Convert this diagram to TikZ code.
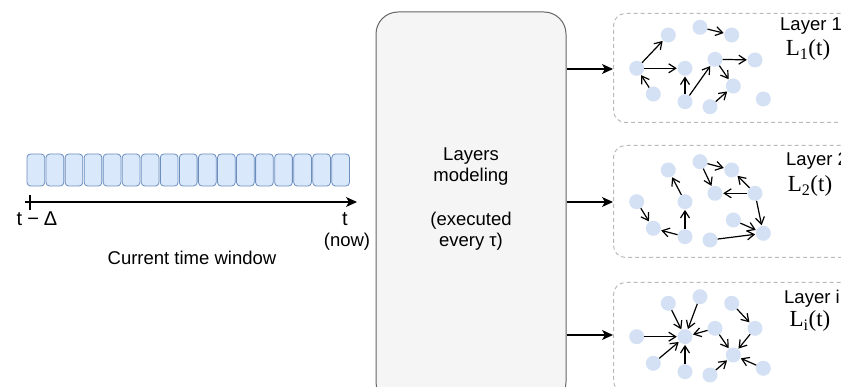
\documentclass[tikz,border=0pt]{standalone}
\usepackage{fontspec}
\setmainfont{Liberation Sans}
\newfontfamily\serifL{Liberation Serif}
\usetikzlibrary{arrows.meta}
\definecolor{nodefill}{HTML}{D4E1F5}
\definecolor{tbfill}{HTML}{DAE8FC}
\definecolor{tbdraw}{HTML}{6C8EBF}
\definecolor{mainfill}{HTML}{F5F5F5}
\definecolor{maindraw}{HTML}{666666}
\definecolor{dashdraw}{HTML}{BBBBBB}
\tikzset{
  nd/.style={circle, fill=nodefill, minimum size=15pt, inner sep=0pt},
  edge/.style={-{Straight Barb[length=7pt,width=9pt]}, line width=1.2pt, shorten >=0.5pt},
  bigarrow/.style={-{Stealth[length=11pt,width=10pt,inset=3pt]}, line width=1.2pt},
  tbox/.style={draw=tbdraw, fill=tbfill, rounded corners=3.5pt, minimum width=17.7pt, minimum height=32pt, inner sep=0pt, line width=0.8pt},
  mainbox/.style={draw=maindraw, fill=mainfill, rounded corners=22pt, line width=1pt, inner sep=0pt},
  layerbox/.style={draw=dashdraw, dash pattern=on 4pt off 3pt, rounded corners=12pt, line width=1pt, inner sep=0pt},
  lbl/.style={font=\fontsize{18.5}{21.6}\selectfont, inner sep=0pt},
  ltxt/.style={font=\serifL\fontsize{23}{26}\selectfont, inner sep=0pt},
}
\begin{document}
\begin{tikzpicture}[x=1pt,y=-1pt]
\useasboundingbox (0,0) rectangle (841,387);
\clip (0,0) rectangle (841,387);
\fill[white] (0,0) rectangle (841,387);

% time window boxes
\foreach \k in {0,...,16}{
  \node[tbox] (tb\k) at ({27+17.7/2+19.05*\k},170) {};
}
\coordinate (ax0) at (25,202);
\coordinate (ax1) at (357,202);
\draw[bigarrow] (ax0) -- (ax1);
\coordinate (tk0) at (30,195);
\coordinate (tk1) at (30,210);
\draw[line width=1.2pt] (tk0) -- (tk1);
\node[lbl, font=\fontsize{20}{24}\selectfont] (tminus) at (37,219) {t\hspace{5pt}−\hspace{5pt}Δ};
\node[lbl, font=\fontsize{20}{24}\selectfont] (tnow) at (345,219) {t};
\node[lbl] (now) at (347,242) {(now)};
\node[lbl] (ctw) at (192,258) {Current time window};

% main box
\node[mainbox, minimum width=190pt, minimum height=392pt] (main) at (471,208) {};
\node[lbl, align=center] (mtxt) at (471,199) {Layers\\modeling\\[21.6pt](executed\\every τ)};

% layer boxes
\node[layerbox, minimum width=260pt, minimum height=109pt, anchor=north west] (L1) at (613,13) {};
\node[layerbox, minimum width=260pt, minimum height=112pt, anchor=north west] (L2) at (613,145) {};
\node[layerbox, minimum width=260pt, minimum height=110pt, anchor=north west] (L3) at (613,282) {};

\coordinate (p1) at (613,69);
\coordinate (p2) at (613,202);
\coordinate (p3) at (613,335);
\draw[bigarrow] (main.east |- p1) -- (p1);
\draw[bigarrow] (main.east |- p2) -- (p2);
\draw[bigarrow] (main.east |- p3) -- (p3);

% labels
\node[lbl, anchor=west] (lab1) at (780,26) {Layer 1};
\node[ltxt] (lt1) at (808,50) {L\textsubscript{1}(t)};
\node[lbl, anchor=west] (lab2) at (786,161) {Layer 2};
\node[ltxt] (lt2) at (810,186) {L\textsubscript{2}(t)};
\node[lbl, anchor=west] (lab3) at (784,299) {Layer i};
\node[ltxt] (lt3) at (810,321) {L\textsubscript{i}(t)};

% layer 1 graph
\node[nd] (a1) at (636.7,68.3) {};
\node[nd] (b1) at (668.3,35) {};
\node[nd] (c1) at (700,27.3) {};
\node[nd] (d1) at (731.7,35) {};
\node[nd] (e1) at (685,68.3) {};
\node[nd] (f1) at (715,59.3) {};
\node[nd] (g1) at (755,60) {};
\node[nd] (h1) at (653.3,94) {};
\node[nd] (i1) at (685,101.7) {};
\node[nd] (j1) at (733.3,86) {};
\node[nd] (k1) at (710,106.7) {};
\node[nd] (l1) at (763.3,99) {};
\draw[edge] (a1) -- (b1);
\draw[edge] (c1) -- (d1);
\draw[edge] (a1) -- (e1);
\draw[edge] (h1) -- (a1);
\draw[edge] (i1) -- (e1);
\draw[edge] (i1) -- (f1);
\draw[edge] (f1) -- (g1);
\draw[edge] (f1) -- (j1);
\draw[edge] (k1) -- (j1);

% layer 2 graph
\node[nd] (a2) at (636.7,201.7) {};
\node[nd] (b2) at (668.3,170) {};
\node[nd] (c2) at (700,161.7) {};
\node[nd] (d2) at (731.7,170) {};
\node[nd] (e2) at (685,201.7) {};
\node[nd] (f2) at (715,193.3) {};
\node[nd] (g2) at (755,193.3) {};
\node[nd] (h2) at (653.3,228.3) {};
\node[nd] (i2) at (685,236.7) {};
\node[nd] (j2) at (733.3,220) {};
\node[nd] (k2) at (710,240) {};
\node[nd] (l2) at (763.3,233.3) {};
\draw[edge] (a2) -- (h2);
\draw[edge] (i2) -- (h2);
\draw[edge] (i2) -- (e2);
\draw[edge] (e2) -- (b2);
\draw[edge] (c2) -- (d2);
\draw[edge] (c2) -- (f2);
\draw[edge] (g2) -- (f2);
\draw[edge] (g2) -- (d2);
\draw[edge] (g2) -- (l2);
\draw[edge] (j2) -- (l2);
\draw[edge] (k2) -- (l2);

% layer i graph
\node[nd] (a3) at (636.7,336.7) {};
\node[nd] (b3) at (668.3,303.3) {};
\node[nd] (c3) at (700,296.7) {};
\node[nd] (d3) at (731.7,303.3) {};
\node[nd] (e3) at (685,336.7) {};
\node[nd] (f3) at (715,328.3) {};
\node[nd] (g3) at (755,328.3) {};
\node[nd] (h3) at (653.3,363.3) {};
\node[nd] (i3) at (685,371.7) {};
\node[nd] (j3) at (733.3,355) {};
\node[nd] (k3) at (710,375) {};
\node[nd] (l3) at (763.3,368.3) {};
\draw[edge] (a3) -- (e3);
\draw[edge] (b3) -- (e3);
\draw[edge] (c3) -- (e3);
\draw[edge] (f3) -- (e3);
\draw[edge] (h3) -- (e3);
\draw[edge] (i3) -- (e3);
\draw[edge] (d3) -- (g3);
\draw[edge] (g3) -- (j3);
\draw[edge] (f3) -- (j3);
\draw[edge] (k3) -- (j3);
\draw[edge] (l3) -- (j3);
\end{tikzpicture}
\end{document}
